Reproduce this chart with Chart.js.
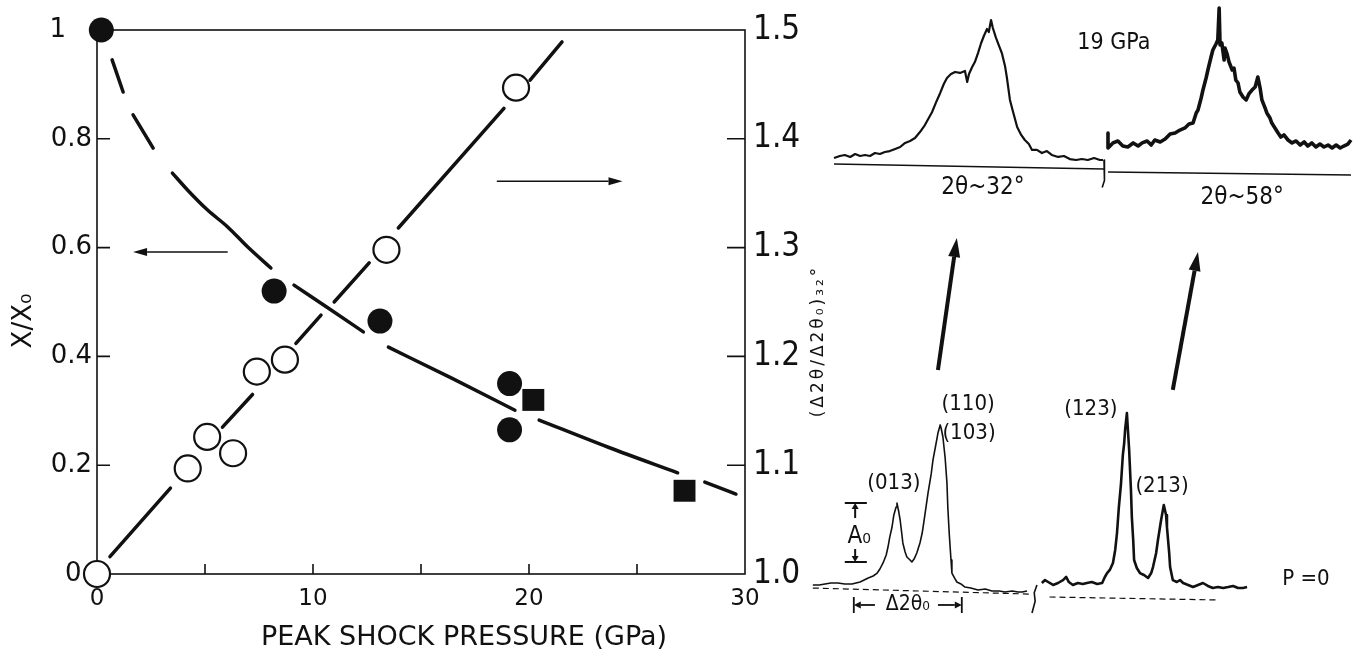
<!DOCTYPE html>
<html>
<head>
<meta charset="utf-8">
<title>Peak shock pressure: X/X0 and XRD peak width</title>
<script src="https://cdn.jsdelivr.net/npm/chart.js@4.4.1/dist/chart.umd.min.js"></script>
<style>
  html, body { margin: 0; padding: 0; background: #fff; }
  #wrap { position: relative; width: 1366px; height: 656px; overflow: hidden; }
  #canvasMain { position: absolute; left: 0; top: 0; }
  #canvasXrd { position: absolute; left: 800px; top: 0; }
</style>
</head>
<body>
<div id="wrap">
  <canvas id="canvasMain" width="840" height="656"></canvas>
  <canvas id="canvasXrd" width="566" height="656"></canvas>
</div>
<script>
'use strict';

// ---- main plot data ----
// X/X0, left axis, filled symbols
const pressureCircles = [0.2, 8.2, 13.1, 19.1, 19.1];
const ratioCircles = [1.0, 0.52, 0.465, 0.35, 0.265];
const pressureSquares = [20.2, 27.2];
const ratioSquares = [0.32, 0.153];
// (d2theta/d2theta0) at 32 deg, right axis, open circles
const pressureOpen = [0, 4.2, 5.1, 6.3, 7.4, 8.7, 13.4, 19.4];
const widthOpen = [1.0, 1.097, 1.126, 1.111, 1.186, 1.197, 1.298, 1.447];
// hand drawn guide curves, null = pen lifted
const fitPressure = [0.7, 1.21, null, 1.67, 2.6, null, 3.49, 4.19, 5.12, 6.05, 6.98, 8.05, null,
  9.12, 10.7, 12.33, null, 13.49, 16.42, 19.35, null, 20.47, 23.67, 26.88, null, 28.14, 29.58];
const fitRatio = [0.945, 0.886, null, 0.844, 0.783, null, 0.737, 0.706, 0.669, 0.638, 0.601, 0.5625, null,
  0.531, 0.489, 0.445, null, 0.417, 0.36, 0.301, null, 0.283, 0.233, 0.186, null, 0.169, 0.147];
const guidePressure = [0.6, 3.4, null, 5.81, 7.2, null, 9.21, 10.37, null, 10.98, 12.6, null, 13.95, 18.84, null, 20.05, 21.53];
const guideWidth = [1.016, 1.079, null, 1.135, 1.165, null, 1.212, 1.238, null, 1.25, 1.286, null, 1.318, 1.428, null, 1.454, 1.489];
const pressureTickMarks = [5, 10, 15, 20, 25];

// ---- XRD traces: 2theta (deg) and intensity (arb.) ----
const tl2t = [29.00,29.13,29.24,29.36,29.47,29.58,29.69,29.80,29.91,30.02,30.13,30.24,30.36,30.47,30.58,30.69,30.80,30.91,31.02,31.18,31.27,31.36,31.44,31.51,31.60,31.69,31.80,31.91,31.96,32.00,32.07,32.13,32.20,32.27,32.33,32.40,32.44,32.49,32.53,32.60,32.67,32.73,32.80,32.84,32.91,32.98,33.07,33.16,33.24,33.33,33.40,33.51,33.62,33.73,33.84,33.98,34.11,34.24,34.38,34.51,34.64,34.78,34.91,34.98];
const tlI = [7.1,8.6,9.3,7.9,10.0,8.6,9.3,8.6,10.7,10.0,11.4,12.1,13.6,15.0,17.9,19.3,21.4,25.7,30.7,40.0,47.0,53.6,60.0,64.3,67.1,68.6,67.9,69.3,61.4,67.1,72.1,75.7,82.1,89.3,94.3,99.3,97.1,105.7,100.0,92.9,87.1,82.1,72.9,65.0,48.6,40.0,29.3,23.6,20.0,17.1,12.9,12.9,10.7,12.1,9.3,7.9,8.6,6.4,5.7,6.4,5.7,7.1,5.7,5.7];
const tr2t = [55.00,55.00,55.11,55.22,55.33,55.44,55.56,55.67,55.76,55.87,55.96,56.04,56.16,56.27,56.38,56.49,56.60,56.71,56.80,56.89,56.96,57.00,57.07,57.11,57.18,57.22,57.29,57.33,57.40,57.44,57.47,57.49,57.53,57.58,57.60,57.64,57.69,57.76,57.80,57.84,57.89,57.93,58.00,58.07,58.13,58.20,58.27,58.33,58.38,58.42,58.49,58.53,58.60,58.64,58.71,58.78,58.84,58.91,59.00,59.09,59.18,59.27,59.36,59.44,59.53,59.62,59.71,59.80,59.89,59.98,60.07,60.16,60.24,60.33,60.40];
const trI = [25.0,14.3,17.9,19.3,15.7,15.0,17.9,15.7,17.9,19.3,16.4,20.0,18.6,20.7,24.3,25.0,27.1,28.6,31.4,32.1,39.3,41.4,50.0,55.7,64.3,70.0,79.3,84.3,88.6,91.4,114.3,87.9,89.3,77.1,85.7,82.1,75.7,70.0,71.4,62.9,60.7,54.3,50.7,48.6,52.9,55.7,57.9,65.0,57.1,48.6,42.9,39.3,35.7,32.1,28.6,25.0,22.1,23.6,20.0,17.9,19.3,16.4,18.6,15.7,17.9,15.0,17.1,15.0,16.4,14.3,16.4,14.3,15.7,17.1,20.0];
const bl2t = [28.53,28.67,28.80,28.93,29.09,29.24,29.40,29.58,29.76,29.87,29.96,30.02,30.09,30.16,30.20,30.24,30.29,30.33,30.38,30.40,30.44,30.47,30.51,30.53,30.58,30.62,30.69,30.73,30.78,30.84,30.91,30.96,31.02,31.09,31.16,31.20,31.27,31.31,31.36,31.38,31.42,31.47,31.51,31.53,31.56,31.60,31.62,31.69,31.73,31.82,31.91,32.04,32.20,32.36,32.51,32.67,32.80,32.96,33.09,33.18,33.29];
const blI = [3.6,3.6,4.3,5.0,5.0,4.3,4.3,5.7,8.6,10.0,12.1,15.0,19.3,25.0,30.7,37.9,45.0,53.6,59.3,62.1,55.7,50.0,39.3,33.6,27.1,23.6,21.4,20.0,22.1,26.4,33.6,40.7,53.6,69.3,82.9,92.9,105.0,112.1,117.9,115.7,109.3,94.3,76.4,58.6,40.7,21.4,12.1,7.9,5.7,4.3,2.1,1.4,0.0,0.7,-0.7,-0.7,-1.4,-0.7,-1.4,-1.4,-0.7];
const br2t = [53.53,53.60,53.67,53.78,53.89,54.00,54.07,54.13,54.22,54.33,54.44,54.53,54.64,54.76,54.87,54.93,54.98,55.04,55.11,55.16,55.20,55.24,55.29,55.33,55.36,55.38,55.42,55.44,55.47,55.51,55.53,55.56,55.58,55.64,55.71,55.80,55.89,55.96,56.00,56.07,56.11,56.18,56.22,56.24,56.29,56.31,56.36,56.38,56.44,56.53,56.60,56.67,56.78,56.89,57.00,57.11,57.22,57.33,57.44,57.56,57.67,57.78,57.89,58.00,58.09];
const brI = [5.0,7.1,5.7,3.6,5.0,7.1,9.3,5.7,3.6,5.0,4.3,5.0,5.7,4.3,5.0,9.3,12.1,14.3,19.3,28.6,40.7,58.6,76.4,96.4,105.0,114.3,126.4,115.7,100.0,71.4,52.1,35.7,21.4,15.7,12.1,10.7,8.6,12.1,16.4,26.4,35.7,50.0,57.1,60.7,53.6,45.0,26.4,16.4,7.1,5.7,7.1,5.0,3.6,2.1,3.6,5.0,2.9,1.4,2.1,1.4,2.1,2.9,1.4,1.4,2.1];

// text labels of the XRD panel: text, x scale, y scale, 2theta, intensity, font size
const xrdLabels = [
  ['19 GPa', 'x58', 'yTop', 55.13, 89.3, 23],
  ['2θ~32°', 'x32', 'yTop', 32.31, -14.3, 24],
  ['2θ~58°', 'x58', 'yTop', 57.98, -21.4, 24],
  ['(013)', 'x32', 'yBot', 30.33, 76.4, 22],
  ['(110)', 'x32', 'yBot', 31.98, 132.9, 22],
  ['(103)', 'x32', 'yBot', 32.0, 112.1, 22],
  ['(123)', 'x58', 'yBot', 54.62, 129.3, 22],
  ['(213)', 'x58', 'yBot', 56.2, 74.3, 22],
  ['P =0', 'x58', 'yBot', 59.4, 7.9, 22]
];

const INK = '#111';
const FONT = "'DejaVu Sans', sans-serif";
const FONT_COND = "'DejaVu Sans Condensed', 'DejaVu Sans', sans-serif";

const pts = (xs, ys) => xs.map((x, i) => ({x: x, y: ys[i]}));

function drawArrow(ctx, x0, y0, x1, y1, lw, headLen, headHalf) {
  const ang = Math.atan2(y1 - y0, x1 - x0);
  const bx = x1 - headLen * Math.cos(ang);
  const by = y1 - headLen * Math.sin(ang);
  ctx.lineWidth = lw;
  ctx.beginPath();
  ctx.moveTo(x0, y0);
  ctx.lineTo(bx, by);
  ctx.stroke();
  ctx.beginPath();
  ctx.moveTo(x1, y1);
  ctx.lineTo(bx + headHalf * Math.sin(ang), by - headHalf * Math.cos(ang));
  ctx.lineTo(bx - headHalf * Math.sin(ang), by + headHalf * Math.cos(ang));
  ctx.closePath();
  ctx.fill();
}

// frame, inward ticks, arrows and axis titles of the main plot
const mainDecor = {
  id: 'mainDecor',
  beforeDatasetsDraw(chart) {
    const {ctx, chartArea: a, scales} = chart;
    ctx.save();
    ctx.strokeStyle = INK;
    ctx.lineWidth = 1.6;
    ctx.strokeRect(a.left, a.top, a.right - a.left, a.bottom - a.top);
    ctx.beginPath();
    pressureTickMarks.forEach(v => {
      const px = scales.x.getPixelForValue(v);
      ctx.moveTo(px, a.bottom);
      ctx.lineTo(px, a.bottom - 10);
    });
    scales.y.ticks.forEach(t => {
      if (t.value <= 0 || t.value >= 1) return;
      const py = scales.y.getPixelForValue(t.value);
      ctx.moveTo(a.left, py);
      ctx.lineTo(a.left + 13, py);
    });
    scales.y1.ticks.forEach(t => {
      if (t.value <= 1 || t.value >= 1.5) return;
      const py = scales.y1.getPixelForValue(t.value);
      ctx.moveTo(a.right, py);
      ctx.lineTo(a.right - 18, py);
    });
    ctx.stroke();
    ctx.restore();
  },
  afterDraw(chart) {
    const {ctx, scales} = chart;
    ctx.save();
    ctx.strokeStyle = INK;
    ctx.fillStyle = INK;
    // arrows telling which axis belongs to which curve
    drawArrow(ctx, scales.x.getPixelForValue(6.05), scales.y.getPixelForValue(0.592),
      scales.x.getPixelForValue(1.67), scales.y.getPixelForValue(0.592), 1.6, 14, 4);
    drawArrow(ctx, scales.x.getPixelForValue(18.51), scales.y1.getPixelForValue(1.361),
      scales.x.getPixelForValue(24.33), scales.y1.getPixelForValue(1.361), 1.6, 14, 4);

    ctx.textAlign = 'center';
    ctx.textBaseline = 'middle';
    ctx.font = '27px ' + FONT;
    ctx.fillText('PEAK SHOCK PRESSURE (GPa)', 464, 638);

    ctx.save();
    ctx.translate(24, 321);
    ctx.rotate(-Math.PI / 2);
    ctx.font = '26px ' + FONT;
    ctx.fillText('X/X₀', 0, 0);
    ctx.restore();

    ctx.save();
    ctx.translate(819, 341);
    ctx.rotate(-Math.PI / 2);
    ctx.font = '17px ' + FONT;
    ctx.letterSpacing = '3px';
    ctx.fillText('(Δ2θ/Δ2θ₀)₃₂°', 0, 0);
    ctx.restore();
    ctx.restore();
  }
};

const configMain = {
  type: 'scatter',
  data: {
    datasets: [{
      label: 'X/X₀',
      data: pts(pressureCircles, ratioCircles),
      yAxisID: 'y',
      pointRadius: 12.5,
      pointBackgroundColor: INK,
      pointBorderColor: INK,
      pointBorderWidth: 0,
      clip: false,
      order: 0
    }, {
      label: 'X/X₀ (squares)',
      data: pts(pressureSquares, ratioSquares),
      yAxisID: 'y',
      pointStyle: 'rect',
      pointRadius: 15.5,
      pointBackgroundColor: INK,
      pointBorderColor: INK,
      pointBorderWidth: 0,
      clip: false,
      order: 0
    }, {
      label: '(Δ2θ/Δ2θ₀)₃₂°',
      data: pts(pressureOpen, widthOpen),
      yAxisID: 'y1',
      pointRadius: 13,
      pointBackgroundColor: '#fff',
      pointBorderColor: INK,
      pointBorderWidth: 2.2,
      clip: false,
      order: 0
    }, {
      type: 'line',
      label: 'X/X₀ guide',
      data: pts(fitPressure, fitRatio),
      yAxisID: 'y',
      borderColor: INK,
      borderWidth: 3.5,
      borderCapStyle: 'round',
      pointRadius: 0,
      cubicInterpolationMode: 'monotone',
      spanGaps: false,
      order: 1
    }, {
      type: 'line',
      label: 'width guide',
      data: pts(guidePressure, guideWidth),
      yAxisID: 'y1',
      borderColor: INK,
      borderWidth: 3.5,
      borderCapStyle: 'round',
      pointRadius: 0,
      tension: 0,
      spanGaps: false,
      order: 1
    }]
  },
  options: {
    responsive: false,
    animation: false,
    layout: { padding: { top: 30, left: 0, right: 0, bottom: 0 } },
    plugins: { legend: { display: false }, tooltip: { enabled: false } },
    scales: {
      x: {
        type: 'linear', min: 0, max: 30, position: 'bottom',
        ticks: { stepSize: 10, color: INK, font: { family: FONT, size: 23 }, padding: 11, maxRotation: 0 },
        grid: { display: false, drawTicks: false },
        border: { display: false },
        afterFit(s) { s.height = 82; }
      },
      y: {
        type: 'linear', min: 0, max: 1, position: 'left',
        ticks: { stepSize: 0.2, color: INK, font: { family: FONT, size: 26 }, padding: 5,
          // "1" and "0" sit left of the big symbols in the original
          callback: v => v === 0 ? '0\u2009\u2009' : (v === 1 ? '1\u2002\u2002' : v.toFixed(1)) },
        grid: { display: false, drawTicks: false },
        border: { display: false },
        afterFit(s) { s.width = 97; }
      },
      y1: {
        type: 'linear', min: 1, max: 1.5, position: 'right',
        ticks: { stepSize: 0.1, color: INK, font: { family: FONT_COND, size: 33 }, padding: 8,
          callback: v => v.toFixed(1) },
        grid: { display: false, drawTicks: false },
        border: { display: false },
        afterFit(s) { s.width = 95; }
      }
    }
  },
  plugins: [mainDecor]
};

const chartMain = new Chart(document.querySelector('#canvasMain').getContext('2d'), configMain);

// ---- XRD panel ----
const XRD_W = 566, XRD_H = 656;
const PX_PER_DEG = 45, PX_PER_COUNT = 1.4;
function degRange(deg0, px0) {
  const min = deg0 - px0 / PX_PER_DEG;
  return { min: min, max: min + XRD_W / PX_PER_DEG };
}
function countRange(px0) {
  const max = px0 / PX_PER_COUNT;
  return { min: max - XRD_H / PX_PER_COUNT, max: max };
}

function trace(label, xs, ys, xAxisID, yAxisID, width, dash) {
  return {
    label: label,
    data: pts(xs, ys),
    xAxisID: xAxisID,
    yAxisID: yAxisID,
    showLine: true,
    borderColor: INK,
    borderWidth: width,
    borderDash: dash || [],
    borderJoinStyle: 'round',
    pointRadius: 0,
    tension: 0
  };
}

const xrdDecor = {
  id: 'xrdDecor',
  afterDatasetsDraw(chart) {
    const {ctx, scales} = chart;
    const X = (id, v) => scales[id].getPixelForValue(v);
    ctx.save();
    ctx.fillStyle = INK;
    ctx.strokeStyle = INK;
    ctx.textAlign = 'center';
    ctx.textBaseline = 'middle';
    xrdLabels.forEach(([text, xa, ya, x, y, size]) => {
      ctx.font = size + 'px ' + FONT_COND;
      ctx.fillText(text, X(xa, x), X(ya, y));
    });

    // arrows P=0 -> 19 GPa
    drawArrow(ctx, X('x32', 31.31), X('yBot', 157.1), X('x32', 31.73), X('yTop', -50), 4, 19, 6);
    drawArrow(ctx, X('x58', 56.44), X('yBot', 142.9), X('x58', 57.0), X('yTop', -60), 4, 19, 6);

    // A0 marker on the (013) peak
    const ax = X('x32', 29.47);
    const cL = X('x32', 29.24), cR = X('x32', 29.73);
    const yPk = X('yBot', 62.1), yVa = X('yBot', 20);
    ctx.lineWidth = 2;
    ctx.beginPath();
    ctx.moveTo(cL, yPk); ctx.lineTo(cR, yPk);
    ctx.moveTo(cL, yVa); ctx.lineTo(cR, yVa);
    ctx.stroke();
    drawArrow(ctx, ax, X('yBot', 51.4), ax, yPk, 2, 6, 3.5);
    drawArrow(ctx, ax, X('yBot', 29.3), ax, yVa, 2, 6, 3.5);
    ctx.font = '24px ' + FONT_COND;
    ctx.fillText('A₀', X('x32', 29.56), X('yBot', 37.9));

    // delta 2theta0 marker
    const dy = X('yBot', -10.7);
    const dL = X('x32', 29.44), dR = X('x32', 31.84);
    ctx.lineWidth = 1.8;
    ctx.beginPath();
    ctx.moveTo(dL, X('yBot', -5)); ctx.lineTo(dL, X('yBot', -16.4));
    ctx.moveTo(dR, X('yBot', -5)); ctx.lineTo(dR, X('yBot', -16.4));
    ctx.stroke();
    drawArrow(ctx, X('x32', 29.91), dy, dL, dy, 1.8, 7, 3.5);
    drawArrow(ctx, X('x32', 31.31), dy, dR, dy, 1.8, 7, 3.5);
    ctx.font = '21px ' + FONT_COND;
    ctx.fillText('Δ2θ₀', X('x32', 30.64), dy);
    ctx.restore();
  }
};

const configXrd = {
  type: 'scatter',
  data: {
    datasets: [
      trace('19 GPa, 2θ~32°', tl2t, tlI, 'x32', 'yTop', 2.2),
      trace('19 GPa, 2θ~58°', tr2t, trI, 'x58', 'yTop', 3.6),
      trace('P=0, 2θ~32°', bl2t, blI, 'x32', 'yBot', 1.6),
      trace('P=0, 2θ~58°', br2t, brI, 'x58', 'yBot', 2.6),
      trace('base 1', [29.0, 35.0], [2.9, -0.7], 'x32', 'yTop', 1.4),
      trace('base 2', [55.0, 60.4], [-2.9, -5.0], 'x58', 'yTop', 1.4),
      trace('base 3', [28.53, 33.35], [1.4, -2.9], 'x32', 'yBot', 1.2, [6, 4]),
      trace('base 4', [53.7, 57.4], [-5.0, -7.1], 'x58', 'yBot', 1.2, [6, 4]),
      trace('break 1', [35.0, 35.02, 35.0, 34.96], [5.7, -2, -9, -14], 'x32', 'yTop', 1.6),
      trace('break 2', [33.51, 33.45, 33.47, 33.4], [3.6, -2, -8, -16.4], 'x32', 'yBot', 1.6)
    ]
  },
  options: {
    responsive: false,
    animation: false,
    layout: { padding: 0 },
    plugins: { legend: { display: false }, tooltip: { enabled: false } },
    scales: {
      x32: Object.assign({ type: 'linear', display: false }, degRange(29, 34)),
      x58: Object.assign({ type: 'linear', display: false }, degRange(55, 308)),
      yTop: Object.assign({ type: 'linear', display: false }, countRange(168)),
      yBot: Object.assign({ type: 'linear', display: false }, countRange(590))
    }
  },
  plugins: [xrdDecor]
};

const chartXrd = new Chart(document.querySelector('#canvasXrd').getContext('2d'), configXrd);
</script>
</body>
</html>
